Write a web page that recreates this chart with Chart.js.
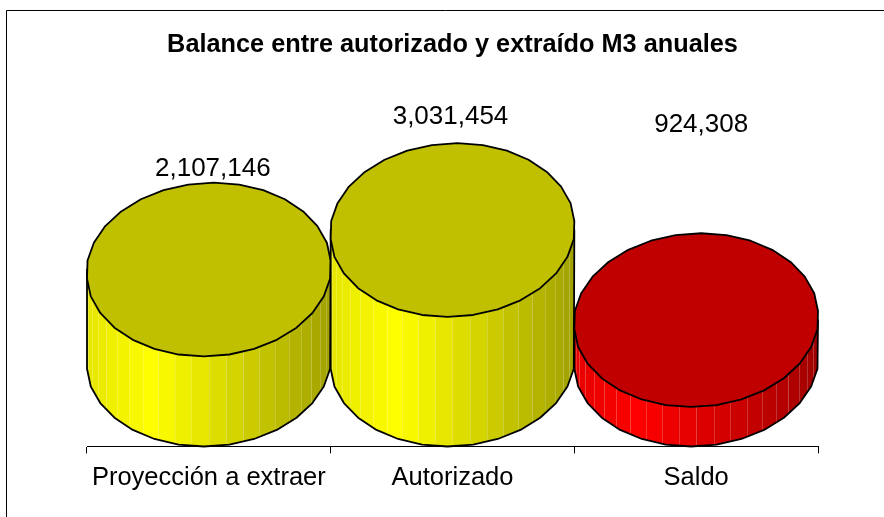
<!DOCTYPE html>
<html>
<head>
<meta charset="utf-8">
<style>
  body{margin:0;background:#fff;}
  canvas{display:block;}
</style>
<script src="https://cdn.jsdelivr.net/npm/chart.js@4"></script>
</head>
<body>
<canvas id="balance" width="884" height="517"></canvas>
<script>
const categories = ["Proyección a extraer","Autorizado","Saldo"];
const values = [2107146,3031454,924308];
const barColors = ["#ffff00","#ffff00","#ff0000"];
const capColors = ["#c0c000","#c0c000","#c00000"];

// where the value labels sit relative to the top of each cylinder (the original has them hand placed)
const labelShiftX = [4,-2,5];
const labelShiftY = [-101,-113,-195];

const FONT = "'Liberation Sans', Arial, sans-serif";
const CAP_RATIO = 0.713; // ellipse height / width
const CAP_SEGMENTS = 30;
const SIDE_STRIPS = 22;

function shade(u){
  // brightest about a quarter of the way across
  return u<0.27 ? 0.9+0.1*(u/0.27) : 1-0.37*((u-0.27)/0.73);
}

function scaleColor(hex,f){
  const n = parseInt(hex.slice(1),16);
  const c = [(n>>16)&255,(n>>8)&255,n&255].map(v=>Math.round(v*f));
  return `rgb(${c[0]},${c[1]},${c[2]})`;
}

function capPoints(cx,cy,rx,ry){
  const step = 2*Math.PI/CAP_SEGMENTS;
  const points = [];
  for(let i=0;i<CAP_SEGMENTS;i++){
    const t = step*(i+0.5);
    const x = cx+rx/Math.cos(step/2)*Math.cos(t)-5*Math.sin(t);
    points.push([Math.min(cx+rx,Math.max(cx-rx,x)),cy+ry*Math.sin(t)]);
  }
  return points;
}

function trace(ctx,points){
  ctx.beginPath();
  points.forEach((p,i)=>i ? ctx.lineTo(p[0],p[1]) : ctx.moveTo(p[0],p[1]));
}

function drawCylinder(ctx,bar,index){
  const rx = bar.width/2;
  const ry = bar.width*CAP_RATIO/2;
  const top = capPoints(bar.x,bar.y,rx,ry);
  const bottom = capPoints(bar.x,bar.base,rx,ry);
  // lower half of the bottom ellipse, from right to left
  const lower = bottom.slice(0,CAP_SEGMENTS/2);
  const side = [[bar.x+rx,bar.y],...lower,[bar.x-rx,bar.y]];

  ctx.save();
  trace(ctx,side);
  ctx.closePath();
  ctx.clip();
  for(let i=0;i<SIDE_STRIPS;i++){
    const x0 = bar.x-rx*Math.cos(Math.PI*i/SIDE_STRIPS);
    const x1 = bar.x-rx*Math.cos(Math.PI*(i+1)/SIDE_STRIPS);
    ctx.fillStyle = scaleColor(barColors[index],shade((x0+x1-2*bar.x+2*rx)/(4*rx)));
    ctx.fillRect(x0,bar.y-ry,x1-x0+0.5,bar.base-bar.y+2*ry+2);
    if(i>0){
      ctx.fillStyle = "rgba(255,255,255,0.2)";
      ctx.fillRect(Math.round(x0),bar.y-ry,1,bar.base-bar.y+2*ry+2);
    }
  }
  ctx.restore();

  ctx.strokeStyle = "#000";
  ctx.lineWidth = 1.8;
  ctx.lineJoin = "round";
  trace(ctx,side);
  ctx.closePath();
  ctx.stroke();

  trace(ctx,top);
  ctx.closePath();
  ctx.fillStyle = capColors[index];
  ctx.fill();
  ctx.stroke();
}

const cylinders = {
  id: "cylinders",
  beforeDraw(chart){
    // the original frame only shows on the top and left
    const ctx = chart.ctx;
    ctx.save();
    ctx.strokeStyle = "#000";
    ctx.lineWidth = 1;
    ctx.beginPath();
    ctx.moveTo(6.5,517);
    ctx.lineTo(6.5,10.5);
    ctx.lineTo(884,10.5);
    ctx.stroke();
    ctx.restore();
  },
  beforeDatasetsDraw(chart){
    const ctx = chart.ctx;
    const bars = chart.getDatasetMeta(0).data;
    bars.forEach((bar,i)=>drawCylinder(ctx,bar,i));
    ctx.save();
    ctx.fillStyle = "#000";
    ctx.font = `26px ${FONT}`;
    ctx.textAlign = "center";
    ctx.textBaseline = "middle";
    bars.forEach((bar,i)=>{
      ctx.fillText(values[i].toLocaleString("en-US"),bar.x+labelShiftX[i],bar.y+labelShiftY[i]);
    });
    ctx.restore();
    return false;
  }
};

new Chart(document.getElementById("balance"),{
  type: "bar",
  data: {
    labels: categories,
    datasets: [
      {
        data: values,
        backgroundColor: barColors,
        barPercentage: 1,
        categoryPercentage: 1
      }
    ]
  },
  options: {
    responsive: false,
    animation: false,
    layout: {
      padding: {left: 87,right: 66,top: 0,bottom: 15}
    },
    plugins: {
      legend: {display: false},
      tooltip: {enabled: false},
      title: {
        display: true,
        text: "Balance entre autorizado y extraído M3 anuales",
        fullSize: false,
        color: "#000",
        font: {family: FONT,size: 25.3,weight: "bold"},
        padding: {top: 30,bottom: 0}
      }
    },
    scales: {
      x: {
        ticks: {
          color: "#000",
          font: {family: FONT,size: 25.5},
          padding: 9,
          autoSkip: false,
          maxRotation: 0
        },
        grid: {
          drawOnChartArea: false,
          tickLength: 7,
          tickColor: "#000"
        },
        border: {color: "#000"}
      },
      y: {
        display: false,
        min: -2030000,
        max: 7000000
      }
    }
  },
  plugins: [cylinders]
});
</script>
</body>
</html>
